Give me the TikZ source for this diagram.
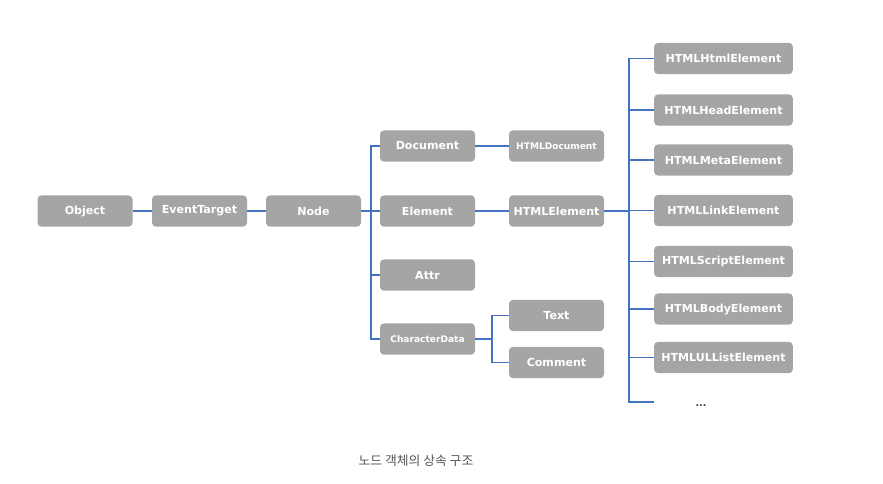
\documentclass[tikz,border=0pt]{standalone}
\usepackage{fontspec}
\setsansfont{DejaVu Sans}
\newfontfamily\krfont{Noto Sans CJK KR}
\usetikzlibrary{positioning,calc}

\definecolor{boxgray}{HTML}{A5A5A5}
\definecolor{linkblue}{HTML}{4472C4}
\definecolor{capgray}{HTML}{555555}

\begin{document}
\begin{tikzpicture}[
    x=0.75pt, y=-0.75pt,
    box/.style={fill=boxgray, rounded corners=3pt, minimum width=71.25pt, minimum height=23.5pt, inner sep=1pt, align=center, text=white, font=\sffamily\bfseries\fontsize{8.3}{9}\selectfont},
    smallbox/.style={box, font=\sffamily\bfseries\fontsize{6.8}{8}\selectfont},
    widebox/.style={box, minimum width=104pt},
    link/.style={draw=linkblue, line width=1.1pt},
    caption/.style={font=\krfont\fontsize{9.6}{11}\selectfont, text=capgray}
]

\useasboundingbox (0,0) rectangle (883,483);

% Main chain
\node[box] (object) at (85,211) {Object};
\node[box] (eventtarget) at (199.5,211) {EventTarget};
\node[box] (node) at (313.5,211) {Node};

% Children of Node
\node[box] (document) at (427.5,146) {Document};
\node[box] (element) at (427.5,211) {Element};
\node[box] (attr) at (427.5,275) {Attr};
\node[smallbox] (chardata) at (427.5,339) {CharacterData};

% Second level
\node[smallbox] (htmldocument) at (556.5,146) {HTMLDocument};
\node[box] (htmlelement) at (556.5,211) {HTMLElement};
\node[box] (text) at (556.5,315.5) {Text};
\node[box] (comment) at (556.5,362.5) {Comment};

% HTML elements
\node[widebox] (htmlhtml) at (723.5,58.5) {HTMLHtmlElement};
\node[widebox] (htmlhead) at (723.5,110) {HTMLHeadElement};
\node[widebox] (htmlmeta) at (723.5,160) {HTMLMetaElement};
\node[widebox] (htmllink) at (723.5,210.5) {HTMLLinkElement};
\node[widebox] (htmlscript) at (723.5,261.5) {HTMLScriptElement};
\node[widebox] (htmlbody) at (723.5,309) {HTMLBodyElement};
\node[widebox] (htmlul) at (723.5,357.5) {HTMLULListElement};
\node[font=\sffamily\bfseries\fontsize{7}{8}\selectfont, text=black!80] (more) at (701,406) {...};

% Bus points
\coordinate (nodebus) at (371,211);
\coordinate (charbus) at (492,339);
\coordinate (htmlbus) at (629,211);
\coordinate (moreend) at (654,402);

% Connections
\draw[link] (object) -- (eventtarget);
\draw[link] (eventtarget) -- (node);
\draw[link] (node) -- (nodebus);
\draw[link] (document.west) -| (nodebus) |- (chardata.west);
\draw[link] (nodebus) -- (element);
\draw[link] (nodebus |- attr.west) -- (attr);
\draw[link] (document) -- (htmldocument);
\draw[link] (element) -- (htmlelement);
\draw[link] (chardata) -- (charbus);
\draw[link] (text.west) -| (charbus) |- (comment.west);
\draw[link] (htmlelement) -- (htmlbus);
\draw[link] (htmlhtml.west) -| (htmlbus) |- (moreend);
\foreach \n in {htmlhead,htmlmeta,htmllink,htmlscript,htmlbody,htmlul}
    \draw[link] (htmlbus |- \n.west) -- (\n);

% Caption
\node[caption] (title) at (416,461) {노드 객체의 상속 구조};

\end{tikzpicture}
\end{document}
